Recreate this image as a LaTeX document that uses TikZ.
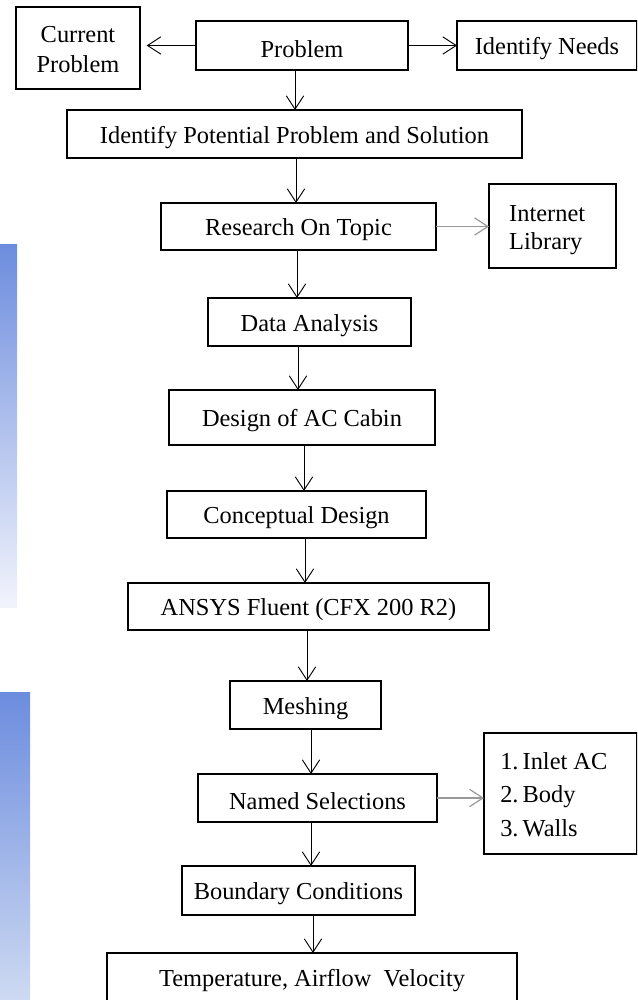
\documentclass[tikz,border=0pt]{standalone}
\usepackage{fontspec}
\setmainfont{Liberation Serif}
\usetikzlibrary{arrows.meta}
\tikzset{
  box/.style={draw=black, line width=1.2pt, inner sep=0pt, outer sep=0pt, font=\fontsize{18.3}{23}\selectfont, text=black},
  arr/.style={draw=black, line width=0.7pt, -{Straight Barb[length=10pt,width=13pt,line width=0.7pt]}},
  garr/.style={draw=gray!80, line width=0.9pt, -{Straight Barb[length=10pt,width=13pt,line width=0.9pt,color=gray!80]}}
}
\newcommand{\bx}[6]{\node[box, minimum width={(#4-#2)*0.75pt}, minimum height={(#5-#3)*0.75pt}] (#1) at ({(#2+#4)/2},{(#3+#5)/2}) {\raisebox{-2.4pt}[\height][\depth]{#6}};}
\definecolor{bartop}{RGB}{108,140,222}
\definecolor{barbotA}{RGB}{242,244,252}
\definecolor{barbotB}{RGB}{206,218,242}
\begin{document}
\begin{tikzpicture}[x=0.75pt,y=-0.75pt]
\useasboundingbox (0,0) rectangle (637,1000);
\clip (0,0) rectangle (637,1000);
% gradient bars
\shade[top color=bartop, bottom color=barbotA] (0,244) rectangle (17,607);
\shade[top color=bartop, bottom color=barbotB] (0,692) rectangle (30,1000);
% boxes
\bx{cur}{16}{7}{140}{89}{\begin{tabular}{@{}c@{}}Current\\[-0.5pt]Problem\end{tabular}}
\bx{prob}{196}{21}{408}{70}{Problem}
\bx{need}{457}{21}{637}{70}{Identify Needs}
\bx{idp}{67}{110}{522}{158}{Identify Potential Problem and Solution}
\bx{res}{161}{203}{436}{250}{Research On Topic}
\bx{net}{489}{184}{616}{268}{\hspace*{-8pt}\begin{tabular}{@{}l@{}}Internet\\[-2pt]Library\end{tabular}}
\bx{data}{208}{298}{411}{346}{Data Analysis}
\bx{des}{169}{390}{435}{445}{Design of AC Cabin}
\bx{con}{167}{491}{426}{538}{Conceptual Design}
\bx{ans}{128}{583}{489}{630}{ANSYS Fluent (CFX 200 R2)}
\bx{mesh}{230}{681}{381}{729}{Meshing}
\bx{named}{198}{774}{437}{822}{Named Selections}
\bx{list}{484}{733}{637}{854}{\hspace*{-10pt}\begin{tabular}{@{}l@{}}1.\,Inlet AC\\[2pt]2.\,Body\\[2pt]3.\,Walls\end{tabular}}
\bx{bc}{182}{866}{415}{915}{Boundary Conditions}
\node[box, minimum width={(517-107)*0.75pt}, minimum height={(1037-953)*0.75pt}] (temp) at (312,995) {};
\node[font=\fontsize{18.3}{23}\selectfont, text=black] (templ) at (312,981) {Temperature,\ Airflow\ \ Velocity};
% connectors
\draw[arr] (prob.west) -- ([xshift=5pt]cur.east |- prob.west);
\draw[arr] (prob.east) -- (need.west);
\draw[arr] (prob.south -| 295,0) -- (idp.north -| 295,0);
\draw[arr] (idp.south -| 296,0) -- (res.north -| 296,0);
\draw[garr] (res.east) -- (net.west |- res.east);
\draw[arr] (res.south -| 297,0) -- (data.north -| 297,0);
\draw[arr] (data.south -| 298,0) -- (des.north -| 298,0);
\draw[arr] (des.south -| 304,0) -- (con.north -| 304,0);
\draw[arr] (con.south -| 305,0) -- (ans.north -| 305,0);
\draw[arr] (ans.south -| 307,0) -- (mesh.north -| 307,0);
\draw[arr] (mesh.south -| 311,0) -- (named.north -| 311,0);
\draw[garr] (named.east) -- (list.west |- named.east);
\draw[arr] (named.south -| 311,0) -- (bc.north -| 311,0);
\draw[arr] (bc.south -| 313,0) -- (temp.north -| 313,0);
\end{tikzpicture}
\end{document}
